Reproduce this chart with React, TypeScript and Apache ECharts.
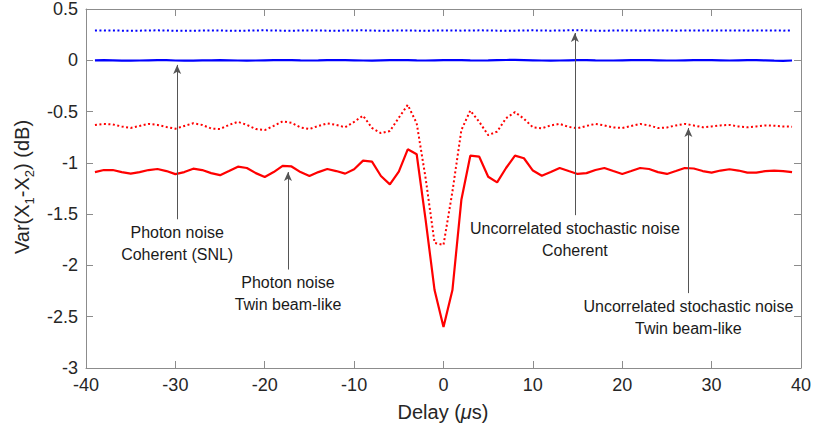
import React, { useEffect, useRef } from "react";
import * as echarts from "echarts";

const delays = Array.from({ length: 79 }, (_, i) => i - 39);

const twinPhoton = [
  -1.09, -1.07, -1.07, -1.09, -1.105, -1.09, -1.07, -1.06, -1.08, -1.11,
  -1.09, -1.057, -1.07, -1.1, -1.12, -1.08, -1.037, -1.05, -1.1, -1.137,
  -1.09, -1.03, -1.035, -1.09, -1.128, -1.09, -1.06, -1.08, -1.105, -1.062,
  -0.978, -0.988, -1.128, -1.21, -1.085, -0.868, -0.916, -1.556, -2.24, -2.6,
  -2.24, -1.36, -0.93, -0.94, -1.135, -1.19, -1.05, -0.93, -0.955, -1.075,
  -1.125, -1.09, -1.05, -1.08, -1.108, -1.1, -1.07, -1.05, -1.08, -1.108,
  -1.08, -1.05, -1.06, -1.09, -1.108, -1.08, -1.05, -1.055, -1.08, -1.095,
  -1.075, -1.062, -1.075, -1.095, -1.095, -1.08, -1.075, -1.08, -1.09,
];

const twinStochastic = [
  -0.63, -0.62, -0.625, -0.645, -0.66, -0.64, -0.62, -0.63, -0.65, -0.667,
  -0.64, -0.614, -0.63, -0.665, -0.67, -0.63, -0.6, -0.63, -0.67, -0.68,
  -0.64, -0.595, -0.61, -0.655, -0.67, -0.64, -0.615, -0.63, -0.653, -0.6,
  -0.54, -0.66, -0.71, -0.69, -0.56, -0.435, -0.614, -1.15, -1.78, -1.8,
  -1.28, -0.68, -0.49, -0.6, -0.73, -0.695, -0.565, -0.505, -0.57, -0.653,
  -0.663, -0.635, -0.62, -0.65, -0.663, -0.64, -0.62, -0.635, -0.655, -0.66,
  -0.64, -0.62, -0.635, -0.66, -0.655, -0.635, -0.62, -0.635, -0.653, -0.645,
  -0.635, -0.63, -0.645, -0.653, -0.645, -0.635, -0.638, -0.645, -0.647,
];

const coherentPhoton = [
  0.0, 0.002, 0.0, -0.003, -0.004, -0.002, 0.0, 0.002, 0.001, -0.002,
  -0.004, -0.003, -0.001, 0.0, 0.001, 0.0, -0.002, -0.003, -0.002, 0.0,
  0.002, 0.003, 0.001, -0.001, -0.002, -0.001, 0.001, 0.003, 0.002, 0.0,
  -0.002, -0.003, -0.001, 0.001, 0.002, 0.001, -0.001, -0.002, 0.0, 0.001,
  0.002, 0.001, -0.001, -0.002, -0.001, 0.001, 0.003, 0.004, 0.002, 0.0,
  -0.002, -0.003, -0.002, 0.0, 0.002, 0.001, -0.001, -0.002, -0.002, 0.0,
  0.002, 0.003, 0.002, 0.0, -0.002, -0.002, 0.0, 0.002, 0.003, 0.002,
  0.0, -0.002, 0.0, 0.002, 0.001, -0.001, -0.004, -0.005, -0.002,
];

const coherentStochastic = [
  0.29, 0.291, 0.29, 0.289, 0.288, 0.289, 0.291, 0.292, 0.29, 0.288,
  0.287, 0.288, 0.29, 0.291, 0.29, 0.288, 0.287, 0.289, 0.291, 0.292,
  0.29, 0.289, 0.288, 0.29, 0.291, 0.29, 0.289, 0.288, 0.29, 0.291,
  0.292, 0.29, 0.288, 0.289, 0.291, 0.29, 0.289, 0.288, 0.29, 0.291,
  0.29, 0.289, 0.29, 0.292, 0.291, 0.289, 0.288, 0.289, 0.291, 0.292,
  0.29, 0.289, 0.29, 0.292, 0.293, 0.291, 0.289, 0.288, 0.29, 0.291,
  0.29, 0.289, 0.29, 0.291, 0.29, 0.289, 0.29, 0.291, 0.29, 0.289,
  0.29, 0.291, 0.29, 0.289, 0.29, 0.291, 0.29, 0.289, 0.29,
];

const xTicks = { min: -40, max: 40, interval: 10 };
const yTicks = { min: -3, max: 0.5, interval: 0.5 };

// annotations: [delay, arrow bottom y, arrow tip y, line1, line2]
const annotations: [number, number, number, string, string][] = [
  [-29.8, -1.55, -0.045, "Photon noise", "Coherent (SNL)"],
  [-17.4, -2.04, -1.09, "Photon noise", "Twin beam-like"],
  [14.7, -1.51, 0.266, "Uncorrelated stochastic noise", "Coherent"],
  [27.4, -2.27, -0.66, "Uncorrelated stochastic noise", "Twin beam-like"],
];

const FONT = "'Liberation Sans', Arial, Helvetica, sans-serif";

export default function App() {
  const ref = useRef<HTMLDivElement>(null);
  useEffect(() => {
    if (!ref.current) return;
    const chart = echarts.init(ref.current, undefined, { renderer: "svg" });
    const pairs = (arr: number[]) => delays.map((d, i) => [d, arr[i]]);
    const axisLine = { show: true, onZero: false, lineStyle: { color: "#8c8c8c", width: 1 } };
    const tickIn = { show: true, inside: true, length: 7, lineStyle: { color: "#8c8c8c" } };
    const labelStyle = { color: "#262626", fontSize: 18, fontFamily: FONT };
    chart.setOption({
      animation: false,
      backgroundColor: "#ffffff",
      grid: { left: 86, right: 13, top: 9, bottom: 62, containLabel: false },
      xAxis: [
        {
          type: "value", ...xTicks, position: "bottom",
          axisLine, axisTick: tickIn, splitLine: { show: false },
          axisLabel: { ...labelStyle, margin: 8 },
        },
        {
          type: "value", ...xTicks, position: "top",
          axisLine, axisTick: tickIn, splitLine: { show: false },
          axisLabel: { show: false },
        },
      ],
      yAxis: [
        {
          type: "value", ...yTicks, position: "left",
          axisLine, axisTick: tickIn, splitLine: { show: false },
          axisLabel: { ...labelStyle, margin: 8, formatter: (v: number) => String(v) },
        },
        {
          type: "value", ...yTicks, position: "right",
          axisLine, axisTick: tickIn, splitLine: { show: false },
          axisLabel: { show: false },
        },
      ],
      series: [
        {
          type: "line", data: pairs(coherentStochastic), showSymbol: false, silent: true,
          lineStyle: { color: "#0000ff", width: 2, type: [2, 2.5] },
        },
        {
          type: "line", data: pairs(coherentPhoton), showSymbol: false, silent: true,
          lineStyle: { color: "#0000ff", width: 2.2 },
        },
        {
          type: "line", data: pairs(twinStochastic), showSymbol: false, silent: true,
          lineStyle: { color: "#ff0000", width: 2, type: [2, 2.5] },
        },
        {
          type: "line", data: pairs(twinPhoton), showSymbol: false, silent: true,
          lineStyle: { color: "#ff0000", width: 2.2 },
        },
        {
          type: "line", data: [], silent: true,
          markLine: {
            silent: true,
            animation: false,
            symbol: ["none", "arrow"],
            symbolSize: [6, 9],
            label: { show: false },
            lineStyle: { color: "#555555", width: 1, type: "solid" },
            itemStyle: { color: "#222222" },
            data: annotations.map((a) => [
              { coord: [a[0], a[1]] },
              { coord: [a[0], a[2]] },
            ]),
          },
        },
      ],
    });
    const texts = annotations.map((a) => {
      const p = chart.convertToPixel({ gridIndex: 0 }, [a[0], a[1]]) as number[];
      return {
        type: "text",
        x: p[0],
        y: p[1] + 2,
        style: {
          text: a[3] + "\n" + a[4],
          fill: "#1a1a1a",
          fontSize: 16,
          fontFamily: FONT,
          lineHeight: 22,
          align: "center",
          verticalAlign: "top",
        },
      };
    });
    chart.setOption({
      graphic: [
        ...texts,
        {
          type: "text",
          x: 443,
          y: 412,
          style: {
            text: "{n|Delay (}{i|μ}{n|s)}",
            align: "center",
            verticalAlign: "middle",
            rich: {
              n: { fontSize: 20, fontFamily: FONT, fill: "#262626" },
              i: { fontSize: 20, fontFamily: FONT, fontStyle: "italic", fill: "#262626" },
            },
          },
        },
        {
          type: "text",
          x: 24,
          y: 187,
          rotation: Math.PI / 2,
          style: {
            text: "{n|Var(X}{s|1}{n|-X}{s|2}{n|) (dB)}",
            align: "center",
            verticalAlign: "middle",
            rich: {
              n: { fontSize: 20, fontFamily: FONT, fill: "#262626", verticalAlign: "top", lineHeight: 24 },
              s: { fontSize: 13, fontFamily: FONT, fill: "#262626", verticalAlign: "bottom", lineHeight: 24, padding: [10, 0, 0, 0] },
            },
          },
        },
      ],
    });
    return () => chart.dispose();
  }, []);
  return <div ref={ref} style={{ width: 814, height: 430, position: "absolute", left: 0, top: 0 }} />;
}
